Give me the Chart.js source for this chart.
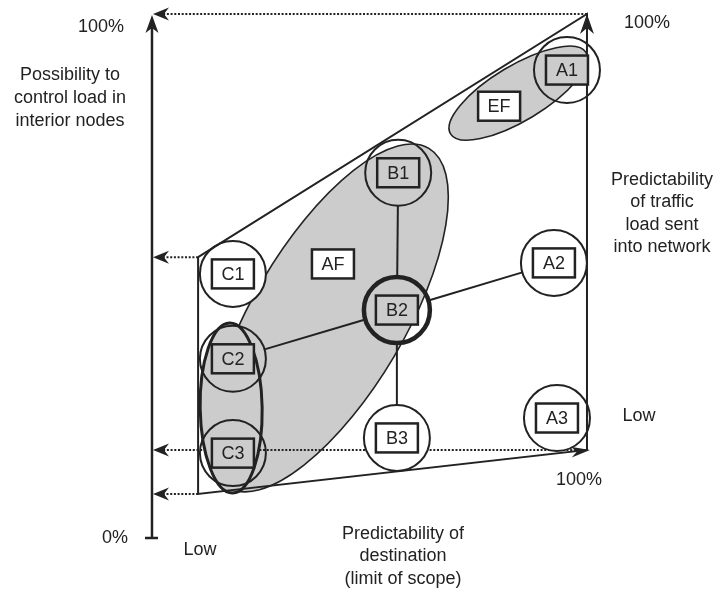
<!DOCTYPE html>
<html>
<head>
<meta charset="utf-8">
<script src="https://cdn.jsdelivr.net/npm/chart.js@4.4.0/dist/chart.umd.min.js"></script>
<style>
  html, body { margin: 0; padding: 0; background: #fff; }
  #wrap { width: 715px; height: 590px; }
</style>
</head>
<body>
<div id="wrap"><canvas id="chart" width="715" height="590"></canvas></div>
<script>
/* DATA  (x = predictability of destination %, y = possibility to control load %) */
const nodeNames = ["A1", "A2", "A3", "B1", "B2", "B3", "C1", "C2", "C3"];
const nodeX     = [95.4, 92.4, 93.1, 56.6, 56.3, 56.3, 18.6, 18.6, 18.6];
const nodeY     = [89.3, 52.5, 22.9, 69.7, 43.5, 19.1, 50.4, 34.2, 16.2];
const links     = [["B1", "B2"], ["B2", "B3"], ["C2", "B2"], ["B2", "A2"]];

const groupNames = ["AF", "EF", "C"];
const groupX     = [40.6, 84.2, 18.2];
const groupY     = [42.0, 84.9, 24.8];
const labelGroups = ["AF", "EF"];
const groupLabelX = [41.6, 79.8];
const groupLabelY = [52.3, 82.4];

// envelope of the feasible region (closed)
const envX = [10.6, 100, 100, 10.6, 10.6];
const envY = [53.6, 100, 16.8, 8.4, 53.6];

// dotted projections onto the vertical axis
const guideFromX = [100, 10.6, 100, 10.6];
const guideY     = [100, 53.6, 16.8, 8.4];

/* STYLE */
const INK = "#222";
const GREY = "#cccccc";
const FONT = '"Liberation Sans", Arial, sans-serif';
const R = 33;
const shaded = ["A1", "B1", "B2", "C2", "C3"];
const whiteFilled = ["C1", "B3", "A2", "A3"];
const ellipseStyle = {
  AF: { rx: 197, ry: 76, rot: -59.4, lw: 1.6 },
  EF: { rx: 79, ry: 27.5, rot: -31, lw: 1.6 },
  C:  { rx: 31, ry: 85, rot: -1, lw: 3 }
};

function arrowHead(ctx, x, y, ang, L, W, N) {
  ctx.save();
  ctx.translate(x, y);
  ctx.rotate(ang);
  ctx.beginPath();
  ctx.moveTo(0, 0);
  ctx.lineTo(-L, -W);
  ctx.lineTo(-N, 0);
  ctx.lineTo(-L, W);
  ctx.closePath();
  ctx.fillStyle = INK;
  ctx.fill();
  ctx.restore();
}

function drawEllipse(ctx, cx, cy, s) {
  ctx.beginPath();
  ctx.ellipse(cx, cy, s.rx, s.ry, s.rot * Math.PI / 180, 0, Math.PI * 2);
  ctx.fillStyle = GREY;
  ctx.fill();
  ctx.lineWidth = s.lw;
  ctx.strokeStyle = INK;
  ctx.stroke();
}

function box(ctx, cx, cy, text, fill) {
  const w = 42, h = 29;
  ctx.fillStyle = fill;
  ctx.fillRect(cx - w / 2, cy - h / 2, w, h);
  ctx.lineWidth = 2.5;
  ctx.strokeStyle = INK;
  ctx.strokeRect(cx - w / 2, cy - h / 2, w, h);
  ctx.fillStyle = INK;
  ctx.font = "18px " + FONT;
  ctx.textAlign = "center";
  ctx.textBaseline = "middle";
  ctx.fillText(text, cx, cy + 1);
}

function lines(ctx, arr, x, y0, step, align) {
  ctx.textAlign = align || "center";
  arr.forEach((t, i) => ctx.fillText(t, x, y0 + i * step));
}

const diagram = {
  id: "diagram",
  beforeDatasetsDraw(chart) {
    const { ctx, scales: { x, y } } = chart;
    const px = v => x.getPixelForValue(v), py = v => y.getPixelForValue(v);
    ctx.save();

    // shaded groups under the dotted guides
    ["AF", "EF"].forEach(g => {
      const i = groupNames.indexOf(g);
      drawEllipse(ctx, px(groupX[i]), py(groupY[i]), ellipseStyle[g]);
    });

    // dotted guides
    ctx.strokeStyle = INK;
    ctx.lineWidth = 2;
    ctx.setLineDash([2, 1.7]);
    guideY.forEach((g, i) => {
      ctx.beginPath();
      ctx.moveTo(px(guideFromX[i]), py(g));
      ctx.lineTo(px(0) + 10, py(g));
      ctx.stroke();
    });
    ctx.setLineDash([]);
    guideY.forEach(g => arrowHead(ctx, px(0) + 1, py(g), Math.PI, 16, 6.5, 11));

    // group C
    const ci = groupNames.indexOf("C");
    drawEllipse(ctx, px(groupX[ci]), py(groupY[ci]), ellipseStyle.C);

    // vertical axis
    ctx.lineWidth = 2.5;
    ctx.strokeStyle = INK;
    ctx.beginPath();
    ctx.moveTo(px(0), py(0));
    ctx.lineTo(px(0), py(100) + 10);
    ctx.moveTo(px(0) - 7, py(0));
    ctx.lineTo(px(0) + 6, py(0));
    ctx.stroke();
    arrowHead(ctx, px(0), py(100) + 1, -Math.PI / 2, 18, 6.5, 13);

    // links between nodes, from rim to rim
    ctx.lineWidth = 2;
    links.forEach(([a, b]) => {
      const i = nodeNames.indexOf(a), j = nodeNames.indexOf(b);
      const x1 = px(nodeX[i]), y1 = py(nodeY[i]), x2 = px(nodeX[j]), y2 = py(nodeY[j]);
      const d = Math.hypot(x2 - x1, y2 - y1), ux = (x2 - x1) / d, uy = (y2 - y1) / d;
      ctx.beginPath();
      ctx.moveTo(x1 + ux * R, y1 + uy * R);
      ctx.lineTo(x2 - ux * R, y2 - uy * R);
      ctx.stroke();
    });
    ctx.restore();
  },
  afterDatasetsDraw(chart) {
    const { ctx, scales: { x, y } } = chart;
    const px = v => x.getPixelForValue(v), py = v => y.getPixelForValue(v);
    ctx.save();

    // envelope arrow heads
    arrowHead(ctx, px(envX[1]), py(envY[1]), -Math.PI / 2, 20, 7, 14);
    const ang = Math.atan2(py(envY[2]) - py(envY[3]), px(envX[2]) - px(envX[3]));
    arrowHead(ctx, px(envX[2]) + 3, py(envY[2]), ang, 19, 5.5, 13);

    // node labels
    nodeNames.forEach((n, i) => {
      box(ctx, px(nodeX[i]), py(nodeY[i]), n, shaded.includes(n) ? GREY : "#fff");
    });
    labelGroups.forEach((g, i) => box(ctx, px(groupLabelX[i]), py(groupLabelY[i]), g, "#fff"));

    // annotations
    ctx.fillStyle = INK;
    ctx.font = "18px " + FONT;
    ctx.textBaseline = "middle";
    lines(ctx, ["100%"], 124, 27, 0, "right");
    lines(ctx, ["Possibility to", "control load in", "interior nodes"], 70, 75, 22.8);
    lines(ctx, ["100%"], 647, 23, 0);
    lines(ctx, ["Predictability", "of traffic", "load sent", "into network"], 662, 180, 22.4);
    lines(ctx, ["Low"], 639, 416, 0);
    lines(ctx, ["100%"], 579, 480, 0);
    lines(ctx, ["0%"], 115, 538, 0);
    lines(ctx, ["Low"], 200, 550, 0);
    lines(ctx, ["Predictability of", "destination", "(limit of scope)"], 403, 534, 22.5);
    ctx.restore();
  }
};

new Chart(document.getElementById("chart"), {
  type: "scatter",
  data: {
    datasets: [
      {
        label: "envelope",
        data: envX.map((v, i) => ({ x: v, y: envY[i] })),
        showLine: true,
        borderColor: INK,
        borderWidth: 2,
        pointRadius: 0,
        fill: false,
        tension: 0
      },
      {
        label: "nodes",
        data: nodeX.map((v, i) => ({ x: v, y: nodeY[i] })),
        pointRadius: R,
        pointBorderColor: INK,
        pointBorderWidth: nodeNames.map(n => n === "B2" ? 4.5 : 2),
        pointBackgroundColor: nodeNames.map(n => whiteFilled.includes(n) ? "#fff" : "rgba(0,0,0,0)"),
        showLine: false,
        clip: false
      }
    ]
  },
  options: {
    responsive: false,
    animation: false,
    events: [],
    layout: { padding: 0, autoPadding: false },
    plugins: { legend: { display: false }, tooltip: { enabled: false } },
    scales: {
      x: { type: "linear", display: false, min: -34.94, max: 129.43 },
      y: { type: "linear", display: false, min: -9.92, max: 102.67 }
    }
  },
  plugins: [diagram]
});
</script>
</body>
</html>
